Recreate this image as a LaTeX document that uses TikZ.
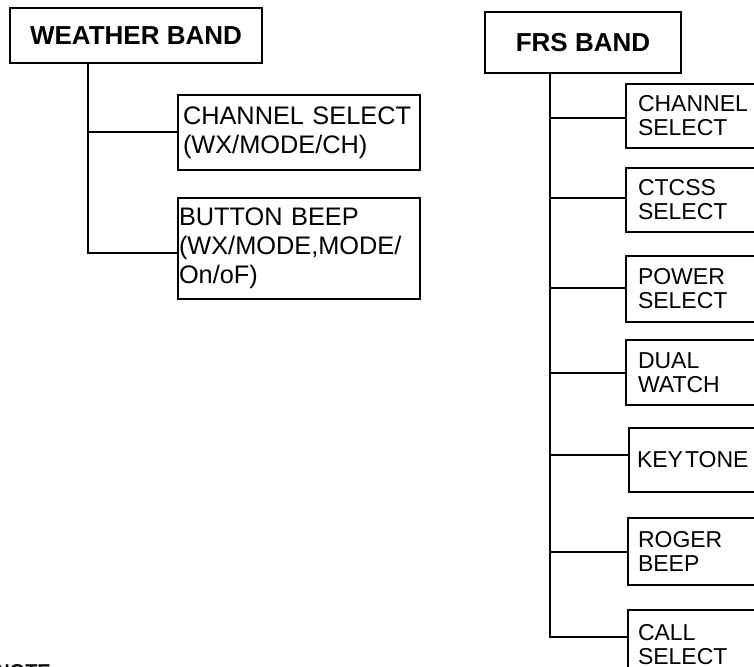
\documentclass[tikz,border=0pt]{standalone}
\usepackage{fontspec}
\setmainfont{Liberation Sans}
\newlength\pxu
\setlength\pxu{0.75pt}
\begin{document}
\begin{tikzpicture}[x=0.75pt,y=-0.75pt,
  box/.style={draw, line width=1.5pt, inner ysep=0pt, anchor=north west},
  title/.style={box, inner xsep=0pt, font=\bfseries\fontsize{19.5pt}{23pt}\selectfont},
  witem/.style={box, align=left, font=\fontsize{19pt}{21.75pt}\selectfont},
  fitem/.style={box, align=left, inner xsep=12\pxu, text width=126\pxu, font=\fontsize{17.25pt}{18pt}\selectfont},
  conn/.style={line width=1.5pt}]
\useasboundingbox (0,0) rectangle (754,667);
\clip (0,0) rectangle (754,667);
% Weather band
\node[title, minimum width=252\pxu, minimum height=55\pxu] (wb) at (9,7) {WEATHER BAND};
\node[witem, inner xsep=5\pxu, text width=232\pxu, minimum height=75\pxu] (wch) at (177,94) {CHANNEL SELECT\\(WX/MODE/CH)};
\node[witem, inner xsep=1\pxu, text width=240\pxu, minimum height=101\pxu] (wbb) at (177,197) {BUTTON BEEP\\(WX/MODE,MODE/\\On/oF)};
\coordinate (wT) at (88,62);
\draw[conn] (wT) |- ([yshift=-4.5\pxu]wbb.west);
\draw[conn] (wT |- wch.west) -- (wch.west);
% FRS band
\node[title, minimum width=196\pxu, minimum height=61\pxu] (fb) at (484,11) {FRS BAND};
\node[fitem, minimum height=64\pxu] (fch) at (625,83) {CHANNEL\\SELECT};
\node[fitem, minimum height=64\pxu] (fct) at (625,167) {CTCSS\\SELECT};
\node[fitem, minimum height=66\pxu] (fpw) at (625,255) {POWER\\SELECT};
\node[fitem, minimum height=65\pxu] (fdw) at (625,339) {DUAL\\WATCH};
\node[fitem, inner xsep=8\pxu, minimum height=64\pxu] (fkt) at (628,427) {KEY\kern2\pxu TONE};
\node[fitem, inner xsep=10\pxu, minimum height=67\pxu] (frb) at (627,517) {ROGER\\BEEP};
\node[fitem, inner xsep=10\pxu, minimum height=70\pxu] (fcs) at (627,609) {CALL\\SELECT};
\coordinate (fT) at (550,72);
\draw[conn] (fT) |- ([yshift=8\pxu]fcs.west);
\draw[conn] ([yshift=-2\pxu]fT |- fch.west) -- ([yshift=-2\pxu]fch.west);
\draw[conn] ([yshift=2\pxu]fT |- fct.west) -- ([yshift=2\pxu]fct.west);
\draw[conn] ([yshift=1\pxu]fT |- fpw.west) -- ([yshift=1\pxu]fpw.west);
\draw[conn] (fT |- fdw.west) -- (fdw.west);
\draw[conn] ([yshift=5.5\pxu]fT |- fkt.west) -- ([yshift=5.5\pxu]fkt.west);
\draw[conn] (fT |- frb.west) -- (frb.west);
% cut-off note
\node[anchor=base west, inner sep=0pt, font=\bfseries\fontsize{15pt}{18pt}\selectfont] (note) at (-5,678) {NOTE};
\end{tikzpicture}
\end{document}
